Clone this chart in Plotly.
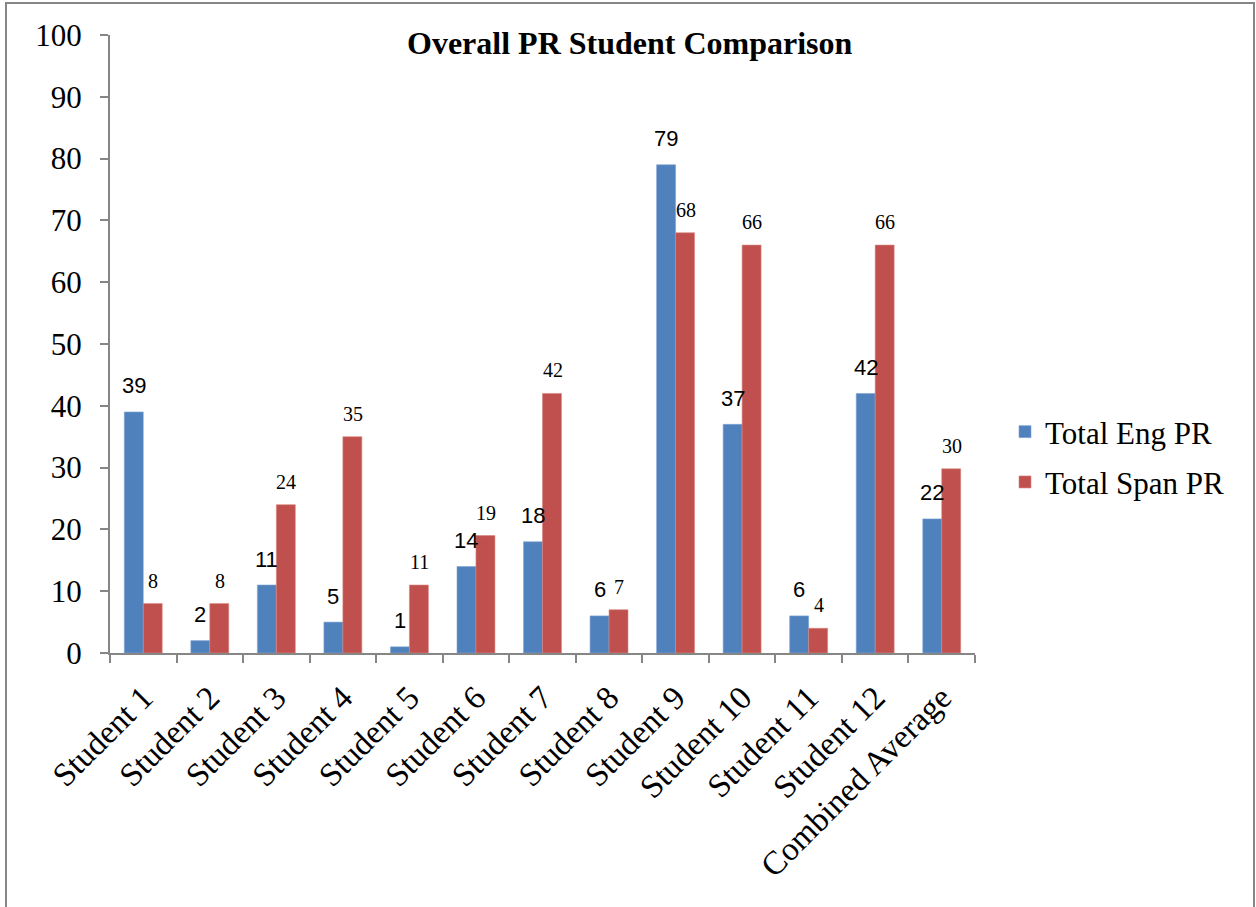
import plotly.graph_objects as go

categories = ["Student 1", "Student 2", "Student 3", "Student 4", "Student 5", "Student 6",
              "Student 7", "Student 8", "Student 9", "Student 10", "Student 11", "Student 12",
              "Combined Average"]
eng_values = [39, 2, 11, 5, 1, 14, 18, 6, 79, 37, 6, 42, 21.7]
span_values = [8, 8, 24, 35, 11, 19, 42, 7, 68, 66, 4, 66, 29.8]
eng_labels = ["39", "2", "11", "5", "1", "14", "18", "6", "79", "37", "6", "42", "22"]
span_labels = ["8", "8", "24", "35", "11", "19", "42", "7", "68", "66", "4", "66", "30"]
y_ticks = [0, 10, 20, 30, 40, 50, 60, 70, 80, 90, 100]

BLUE = "#4F81BD"
RED = "#C0504D"
GRAY = "#868686"
SERIF = "Liberation Serif, Times New Roman, serif"
SANS = "Liberation Sans, Arial, sans-serif"

W, H = 1256, 907
L, R, T, B = 110, 281, 35, 254
pw, ph = W - L - R, H - T - B

fig = go.Figure()
fig.add_trace(go.Bar(x=categories, y=eng_values, name="Total Eng PR",
                     marker=dict(color=BLUE, line=dict(color="#7FA3D3", width=0.6)),
                     legendgroup="a"))
fig.add_trace(go.Bar(x=categories, y=span_values, name="Total Span PR",
                     marker=dict(color=RED, line=dict(color="#D88480", width=0.6)),
                     legendgroup="b"))

annotations = []
for c, v, t in zip(categories, eng_values, eng_labels):
    annotations.append(dict(x=c, y=v, text=t, showarrow=False, xref="x", yref="y",
                            xshift=-9.5, yshift=26, yanchor="middle",
                            font=dict(family=SANS, size=22, color="black")))
for c, v, t in zip(categories, span_values, span_labels):
    annotations.append(dict(x=c, y=v, text=t, showarrow=False, xref="x", yref="y",
                            xshift=10, yshift=23, yanchor="middle",
                            font=dict(family=SERIF, size=20, color="black")))
annotations.append(dict(x=(630 - L) / pw, y=(H - B - 43) / ph, xref="paper", yref="paper",
                        text="<b>Overall PR Student Comparison</b>", showarrow=False,
                        xanchor="center", yanchor="middle",
                        font=dict(family=SERIF, size=32, color="black")))

fig.update_layout(
    width=W, height=H,
    margin=dict(l=L, r=R, t=T, b=B, autoexpand=False),
    paper_bgcolor="white", plot_bgcolor="white",
    barmode="group", bargap=0.43, bargroupgap=0,
    annotations=annotations,
    showlegend=True,
    legend=dict(x=(1005 - L) / pw, y=(H - B - 457) / ph, xanchor="left", yanchor="middle",
                font=dict(family=SERIF, size=31, color="black"),
                traceorder="grouped", tracegroupgap=7, bgcolor="rgba(0,0,0,0)"),
    shapes=[dict(type="rect", xref="paper", yref="paper",
                 x0=(6 - L) / pw, x1=(1254 - L) / pw,
                 y0=(H - B - 930) / ph, y1=(H - B - 3) / ph,
                 line=dict(color=GRAY, width=2), fillcolor="rgba(0,0,0,0)", layer="below")],
)
fig.update_xaxes(showline=True, linecolor=GRAY, linewidth=2, ticks="outside",
                 tickson="boundaries", ticklen=8, tickcolor=GRAY, tickwidth=2,
                 tickangle=-45, showgrid=False, ticklabelstandoff=10,
                 tickfont=dict(family=SERIF, size=33, color="black"))
fig.update_yaxes(range=[0, 100], tickvals=y_ticks, showline=True, linecolor=GRAY, linewidth=2,
                 ticks="outside", ticklen=8, tickcolor=GRAY, tickwidth=2, showgrid=False,
                 zeroline=False, ticklabelstandoff=12,
                 tickfont=dict(family=SERIF, size=31, color="black"))

fig.write_html("out.html")
